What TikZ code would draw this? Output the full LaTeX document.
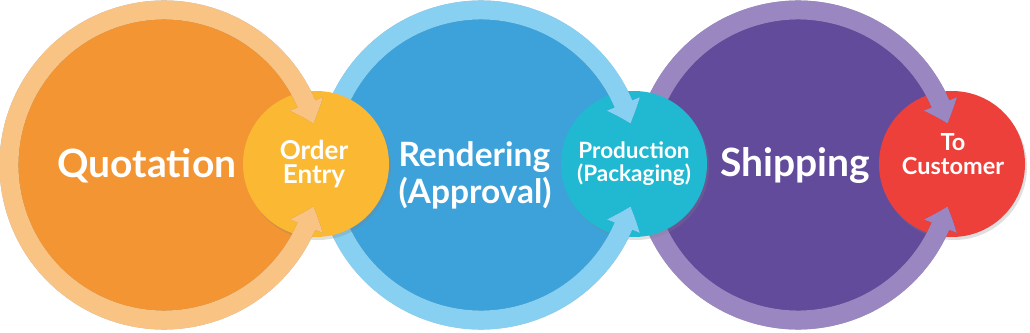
\documentclass[tikz,border=0pt]{standalone}
\usepackage{fontspec}
\setmainfont{Lato}
\usetikzlibrary{arrows.meta,bending,shadows,calc}

\definecolor{quoteRing}{HTML}{F9C384}
\definecolor{quoteFill}{HTML}{F39532}
\definecolor{orderFill}{HTML}{FBB933}
\definecolor{renderRing}{HTML}{88D0F1}
\definecolor{renderFill}{HTML}{3EA2DA}
\definecolor{prodFill}{HTML}{20B9D1}
\definecolor{shipRing}{HTML}{9A87C2}
\definecolor{shipFill}{HTML}{634B9B}
\definecolor{custFill}{HTML}{EE403B}

\tikzset{
  bigdisk/.style={circle, minimum size=294pt, inner sep=0pt, fill=#1},
  smalldisk/.style={circle, minimum size=146pt, inner sep=0pt, fill=#1,
    drop shadow={shadow xshift=2pt, shadow yshift=-3pt, opacity=0.25}},
  ringarrow/.style={line width=19pt, draw=#1,
    {Triangle[width=34pt,length=21pt,bend]}-{Triangle[width=34pt,length=21pt,bend]}},
  steptext/.style={text=white, font=\bfseries, align=center, inner sep=0pt},
}

% ring with two heads round a big disk
\newcommand{\ringloop}[3]{%
  \draw[ringarrow=#3, opacity=0.45, shift={(2pt,-3pt)}]
    ($(#1.center)+(15.5:155)$) arc[start angle=15.5, end angle=344.5, radius=155];
  \draw[ringarrow=#2]
    ($(#1.center)+(15.5:155)$) arc[start angle=15.5, end angle=344.5, radius=155];
}

\begin{document}
\begin{tikzpicture}[x=1pt, y=1pt]
  \useasboundingbox (0,0) rectangle (1030,332);

  % shipping
  \node[bigdisk=shipFill] (ship) at (798,167) {};
  \node[smalldisk=custFill] (cust) at (952,168) {};
  \ringloop{ship}{shipRing}{shipFill!60!black}

  % rendering
  \node[bigdisk=renderFill] (render) at (481,167) {};
  \node[smalldisk=prodFill] (prod) at (634,168) {};
  \ringloop{render}{renderRing}{renderFill!60!black}

  % quotation
  \node[bigdisk=quoteFill] (quote) at (164,167) {};
  \node[smalldisk=orderFill] (order) at (316,168) {};
  \ringloop{quote}{quoteRing}{black!70}

  % labels
  \node[steptext, anchor=base, font=\fontsize{39}{40}\selectfont\bfseries] (quotetext) at (147,154) {Quotation};
  \node[steptext, font=\fontsize{26}{24}\selectfont\bfseries] (ordertext) at ($(order)+(-2,0)$) {Order\\Entry};
  \node[steptext, align=left, font=\fontsize{33.5}{37}\selectfont\bfseries] (rendertext) at (475,157) {Rendering\\(Approval)};
  \node[steptext, font=\fontsize{22.5}{23}\selectfont\bfseries] (prodtext) at (prod) {Production\\(Packaging)};
  \node[steptext, anchor=base, font=\fontsize{39}{40}\selectfont\bfseries] (shiptext) at (795,155) {Shipping};
  \node[steptext, font=\fontsize{23.5}{24}\selectfont\bfseries] (custtext) at ($(cust)+(1,10)$) {To\\Customer};
\end{tikzpicture}
\end{document}
